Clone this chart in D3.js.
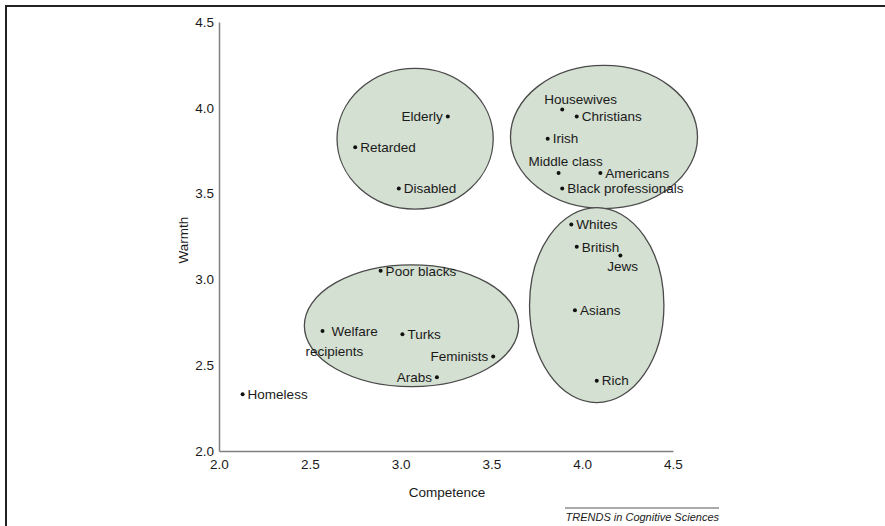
<!DOCTYPE html>
<html>
<head>
<meta charset="utf-8">
<script src="https://cdn.jsdelivr.net/npm/d3@7"></script>
<style>
  body { margin: 0; background: #fff; }
  text { font-family: "Liberation Sans", Arial, Helvetica, sans-serif; fill: #1a1a1a; }
</style>
</head>
<body>
<svg id="chart" width="885" height="526"></svg>
<script>
// groups rated on the two stereotype dimensions
var groups = ["Homeless", "Poor blacks", "Welfare recipients", "Turks", "Feminists", "Arabs",
              "Elderly", "Retarded", "Disabled",
              "Housewives", "Christians", "Irish", "Middle class", "Americans", "Black professionals",
              "Whites", "British", "Jews", "Asians", "Rich"];
var competence = [2.13, 2.89, 2.57, 3.01, 3.51, 3.20,
                  3.26, 2.75, 2.99,
                  3.89, 3.97, 3.81, 3.87, 4.10, 3.89,
                  3.94, 3.97, 4.21, 3.96, 4.08];
var warmth = [2.33, 3.05, 2.70, 2.68, 2.55, 2.43,
              3.95, 3.77, 3.53,
              3.99, 3.95, 3.82, 3.62, 3.62, 3.53,
              3.32, 3.19, 3.14, 2.82, 2.41];

// cluster ellipses (centre and half-widths, in rating units)
var clusterCx = [3.08, 4.12, 4.08, 3.06];
var clusterCy = [3.82, 3.83, 2.85, 2.73];
var clusterRx = [0.43, 0.515, 0.37, 0.59];
var clusterRy = [0.41, 0.417, 0.568, 0.355];

var xTicks = [2.0, 2.5, 3.0, 3.5, 4.0, 4.5];
var yTicks = [2.0, 2.5, 3.0, 3.5, 4.0, 4.5];

// where each label sits relative to its dot
var labelSide = {
    "Elderly": "left", "Feminists": "left", "Arabs": "left",
    "Housewives": "above", "Middle class": "above", "Jews": "below"
};

var svg = d3.select("#chart");
var x = d3.scaleLinear().domain([2, 4.5]).range([219, 673]);
var y = d3.scaleLinear().domain([2, 4.5]).range([451, 22]);

// frame lines top and left
svg.append("path")
    .attr("d", "M6,526V6H885")
    .attr("fill", "none")
    .attr("stroke", "#222")
    .attr("stroke-width", 2);

svg.append("g").selectAll("ellipse")
    .data(clusterCx)
  .enter().append("ellipse")
    .attr("cx", function (d) { return x(d); })
    .attr("cy", function (d, i) { return y(clusterCy[i]); })
    .attr("rx", function (d, i) { return x(d + clusterRx[i]) - x(d); })
    .attr("ry", function (d, i) { return y(clusterCy[i]) - y(clusterCy[i] + clusterRy[i]); })
    .attr("fill", "#d4e0d1")
    .attr("stroke", "#4a4a4a")
    .attr("stroke-width", 1.3);

var xAxis = svg.append("g")
    .attr("transform", "translate(0,451)")
    .call(d3.axisBottom(x).tickValues(xTicks).tickFormat(d3.format(".1f")).tickSize(0).tickPadding(8));
var yAxis = svg.append("g")
    .attr("transform", "translate(219,0)")
    .call(d3.axisLeft(y).tickValues(yTicks).tickFormat(d3.format(".1f")).tickSize(0).tickPadding(5));
[xAxis, yAxis].forEach(function (a) {
    a.select(".domain").attr("stroke", "#808080").attr("stroke-width", 1.5);
    a.selectAll("text").attr("font-size", 13.5).attr("fill", "#1a1a1a")
        .attr("font-family", "Liberation Sans, Arial, sans-serif");
});

svg.append("text")
    .attr("x", 447).attr("y", 497)
    .attr("text-anchor", "middle")
    .attr("font-size", 13.5)
    .text("Competence");
svg.append("text")
    .attr("transform", "translate(188,240) rotate(-90)")
    .attr("text-anchor", "middle")
    .attr("font-size", 13.5)
    .text("Warmth");

var pts = svg.append("g").selectAll("g")
    .data(groups)
  .enter().append("g")
    .attr("transform", function (d, i) { return "translate(" + x(competence[i]) + "," + y(warmth[i]) + ")"; });
pts.append("circle")
    .attr("r", 2)
    .attr("fill", "#111");
pts.each(function (d) {
    var g = d3.select(this), side = labelSide[d] || "right";
    var t = g.append("text").attr("font-size", 13.5).attr("dy", "0.35em");
    if (d === "Welfare recipients") {
        t.attr("x", 9).text("Welfare");
        g.append("text").attr("font-size", 13.5).attr("dy", "0.35em")
            .attr("x", -17).attr("y", 20).text("recipients");
    } else if (side === "left") {
        t.attr("x", -5).attr("text-anchor", "end").text(d);
    } else if (side === "above") {
        t.attr("x", d === "Housewives" ? -18 : -30).attr("y", d === "Housewives" ? -10 : -12).text(d);
    } else if (side === "below") {
        t.attr("x", -13).attr("y", 11).text(d);
    } else {
        t.attr("x", 5).text(d);
    }
});

// source credit
svg.append("line")
    .attr("x1", 565).attr("x2", 719).attr("y1", 508).attr("y2", 508)
    .attr("stroke", "#555").attr("stroke-width", 1);
svg.append("text")
    .attr("x", 719).attr("y", 521)
    .attr("text-anchor", "end")
    .attr("font-size", 11)
    .attr("font-style", "italic")
    .text("TRENDS in Cognitive Sciences");
</script>
</body>
</html>
